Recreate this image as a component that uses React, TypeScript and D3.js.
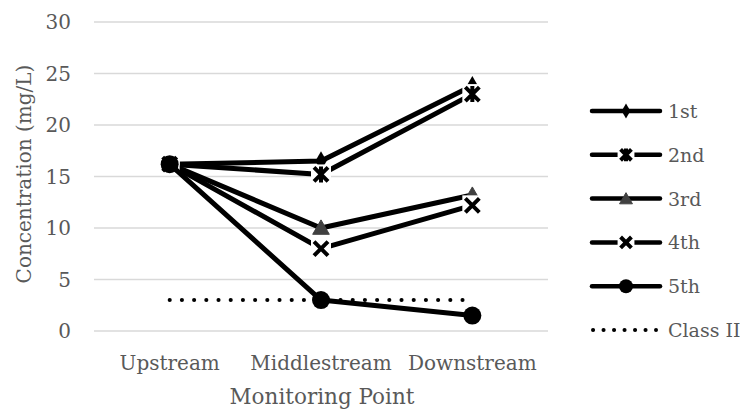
import { useEffect, useRef } from 'react'
import * as d3 from 'd3'

const categories = ['Upstream', 'Middlestream', 'Downstream']
const seriesNames = ['1st', '2nd', '3rd', '4th', '5th']
const first = [16.2, 16.5, 23.8]
const second = [16.2, 15.2, 23.0]
const third = [16.2, 10.0, 13.2]
const fourth = [16.2, 8.0, 12.2]
const fifth = [16.2, 3.0, 1.5]
const classII = [3, 3, 3]
const yTicks = [0, 5, 10, 15, 20, 25, 30]

type MarkerKind = 'diamond' | 'star' | 'triangle' | 'x' | 'circle'
const markers: MarkerKind[] = ['diamond', 'star', 'triangle', 'x', 'circle']

const WIDTH = 740
const HEIGHT = 412
const FONT = '"DejaVu Serif", "Liberation Serif", serif'
const TEXT = '#595959'

function drawMarker(g: any, kind: MarkerKind, x: number, y: number, scale = 1) {
  if (kind === 'diamond') {
    g.append('path')
      .attr('d', d3.symbol(d3.symbolDiamond, 110 * scale)())
      .attr('transform', `translate(${x},${y})`)
      .attr('fill', '#000')
  } else if (kind === 'triangle') {
    g.append('path')
      .attr('d', d3.symbol(d3.symbolTriangle, 120 * scale)())
      .attr('transform', `translate(${x},${y + 1.5})`)
      .attr('fill', '#404040')
      .attr('stroke', '#404040')
      .attr('stroke-width', 1)
  } else if (kind === 'circle') {
    g.append('circle').attr('cx', x).attr('cy', y).attr('r', 9 * Math.sqrt(scale)).attr('fill', '#000')
  } else {
    const s = 7 * Math.sqrt(scale)
    g.append('rect')
      .attr('x', x - s - 3)
      .attr('y', y - s - 3)
      .attr('width', 2 * s + 6)
      .attr('height', 2 * s + 6)
      .attr('fill', '#fff')
    const p = d3.path()
    p.moveTo(x - s, y - s)
    p.lineTo(x + s, y + s)
    p.moveTo(x + s, y - s)
    p.lineTo(x - s, y + s)
    if (kind === 'star') {
      p.moveTo(x, y - s - 1)
      p.lineTo(x, y + s + 1)
    }
    g.append('path')
      .attr('d', p.toString())
      .attr('stroke', '#000')
      .attr('stroke-width', 4)
      .attr('fill', 'none')
  }
}

export default function App() {
  const svgRef = useRef<SVGSVGElement | null>(null)

  useEffect(() => {
    if (!svgRef.current) return
    const svg = d3.select(svgRef.current)
    svg.selectAll('*').remove()

    const x = d3.scaleBand<string>().domain(categories).range([94, 548])
    const y = d3.scaleLinear().domain([0, 30]).range([331, 22])
    const cx = (c: string) => (x(c) ?? 0) + x.bandwidth() / 2

    // gridlines + tick labels
    svg
      .append('g')
      .selectAll('line')
      .data(yTicks)
      .enter()
      .append('line')
      .attr('x1', 94)
      .attr('x2', 548)
      .attr('y1', (d: number) => y(d))
      .attr('y2', (d: number) => y(d))
      .attr('stroke', '#d9d9d9')
      .attr('stroke-width', 1.3)

    svg
      .append('g')
      .selectAll('text')
      .data(yTicks)
      .enter()
      .append('text')
      .attr('x', 71)
      .attr('y', (d: number) => y(d) + 7)
      .attr('text-anchor', 'end')
      .attr('font-family', FONT)
      .attr('font-size', 20)
      .attr('fill', TEXT)
      .text((d: number) => d)

    svg
      .append('g')
      .selectAll('text')
      .data(categories)
      .enter()
      .append('text')
      .attr('x', (d: string) => cx(d))
      .attr('y', 370)
      .attr('text-anchor', 'middle')
      .attr('font-family', FONT)
      .attr('font-size', 20)
      .attr('fill', TEXT)
      .text((d: string) => d)

    svg
      .append('text')
      .attr('x', 322)
      .attr('y', 404)
      .attr('text-anchor', 'middle')
      .attr('font-family', FONT)
      .attr('font-size', 21.5)
      .attr('fill', TEXT)
      .text('Monitoring Point')

    svg
      .append('text')
      .attr('transform', `translate(31,174) rotate(-90)`)
      .attr('text-anchor', 'middle')
      .attr('font-family', FONT)
      .attr('font-size', 20)
      .attr('fill', TEXT)
      .text('Concentration (mg/L)')

    const line = d3
      .line<number>()
      .x((_: number, i: number) => cx(categories[i]))
      .y((d: number) => y(d))

    // Class II dotted
    svg
      .append('path')
      .attr('d', line(classII))
      .attr('fill', 'none')
      .attr('stroke', '#000')
      .attr('stroke-width', 4)
      .attr('stroke-linecap', 'round')
      .attr('stroke-dasharray', '0.1 12.1')

    const allSeries = [first, second, third, fourth, fifth]
    const plot = svg.append('g')
    allSeries.forEach((vals, si) => {
      plot
        .append('path')
        .attr('d', line(vals))
        .attr('fill', 'none')
        .attr('stroke', '#000')
        .attr('stroke-width', 5)
        .attr('stroke-linejoin', 'round')
        .attr('stroke-linecap', 'round')
      vals.forEach((v, i) => drawMarker(plot, markers[si], cx(categories[i]), y(v)))
    })

    // legend
    const legend = svg.append('g')
    const rows = [...seriesNames, 'Class II']
    rows.forEach((name, i) => {
      const ly = 111 + i * 43.8
      if (i < 5) {
        legend
          .append('line')
          .attr('x1', 592)
          .attr('x2', 660)
          .attr('y1', ly)
          .attr('y2', ly)
          .attr('stroke', '#000')
          .attr('stroke-width', 4.5)
          .attr('stroke-linecap', 'round')
        drawMarker(legend, markers[i], 626, ly, 0.6)
      } else {
        legend
          .append('line')
          .attr('x1', 593)
          .attr('x2', 656)
          .attr('y1', ly)
          .attr('y2', ly)
          .attr('stroke', '#000')
          .attr('stroke-width', 4)
          .attr('stroke-linecap', 'round')
          .attr('stroke-dasharray', '0.1 10.4')
      }
      legend
        .append('text')
        .attr('x', 668)
        .attr('y', ly + 7)
        .attr('font-family', FONT)
        .attr('font-size', 19)
        .attr('fill', TEXT)
        .text(name)
    })
  }, [])

  return (
    <svg
      ref={svgRef}
      width={WIDTH}
      height={HEIGHT}
      viewBox={`0 0 ${WIDTH} ${HEIGHT}`}
      style={{ position: 'absolute', left: 0, top: 0, background: '#fff' }}
    />
  )
}
